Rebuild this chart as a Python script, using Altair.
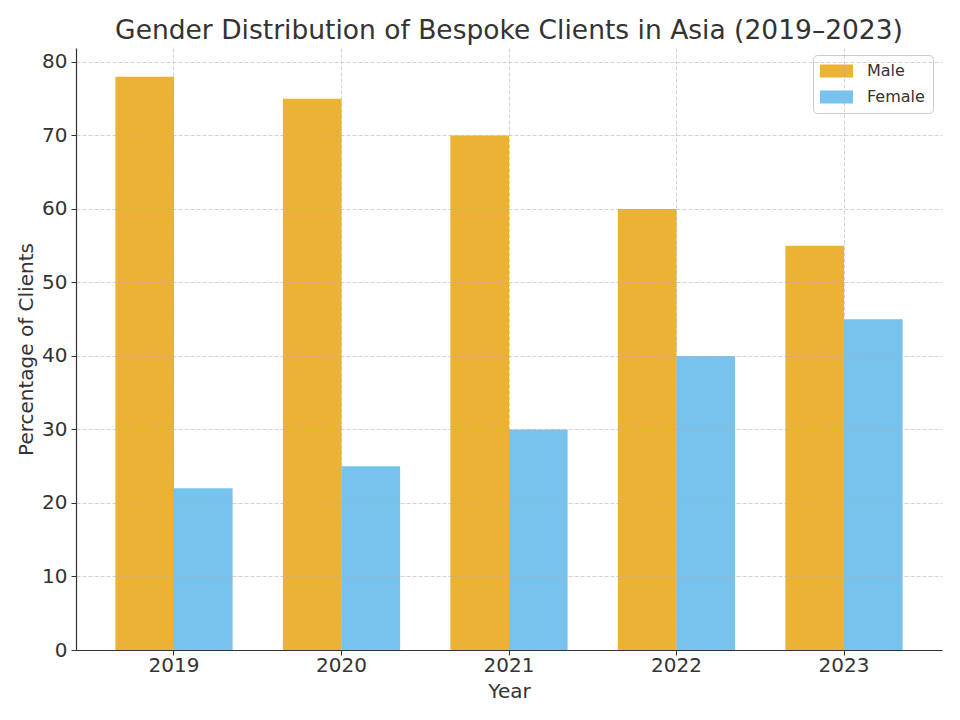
import altair as alt
import pandas as pd

# Share of bespoke clients by gender, Asia 2019-2023 (%)
years = ["2019", "2020", "2021", "2022", "2023"]
male = [78, 75, 70, 60, 55]
female = [22, 25, 30, 40, 45]
genders = ["Male", "Female"]
colors = ["#E69F00", "#56B4E9"]
y_ticks = [0, 10, 20, 30, 40, 50, 60, 70, 80]

rows = []
for i, yr in enumerate(years):
    rows.append({"Year": yr, "Gender": "Male", "Percent": male[i]})
    rows.append({"Year": yr, "Gender": "Female", "Percent": female[i]})
df = pd.DataFrame(rows)

FONT = "DejaVu Sans"
TEXT = "#333333"

# wide legend swatch drawn as a path in symbol units
SWATCH = "M-1.125,-0.8125L3,-0.8125L3,0.8125L-1.125,0.8125Z"

bars = (
    alt.Chart(df)
    .mark_bar(opacity=0.8)
    .encode(
        x=alt.X(
            "Year:N",
            sort=years,
            title="Year",
            scale=alt.Scale(paddingInner=0.3, paddingOuter=0.235),
            axis=alt.Axis(
                labelAngle=0,
                labelFontSize=20,
                titleFontSize=20,
                labelPadding=0,
                titlePadding=6,
                tickSize=5,
                grid=True,
                zindex=1,
            ),
        ),
        xOffset=alt.XOffset(
            "Gender:N", sort=genders, scale=alt.Scale(paddingInner=0, paddingOuter=0)
        ),
        y=alt.Y(
            "Percent:Q",
            title="Percentage of Clients",
            scale=alt.Scale(domain=[0, 81.9], nice=False, zero=True),
            axis=alt.Axis(
                values=y_ticks,
                labelFontSize=20,
                titleFontSize=20,
                labelPadding=4,
                titlePadding=5,
                tickSize=5,
                grid=True,
                zindex=1,
            ),
        ),
        color=alt.Color(
            "Gender:N",
            sort=genders,
            scale=alt.Scale(domain=genders, range=colors),
            legend=alt.Legend(
                title=None,
                orient="none",
                legendX=737,
                legendY=7,
                labelFontSize=16,
                symbolType=SWATCH,
                symbolSize=256,
                symbolOpacity=0.8,
                symbolStrokeWidth=0,
                rowPadding=10,
                labelOffset=30,
                padding=8,
                strokeColor="#cccccc",
                fillColor="white",
                cornerRadius=4,
            ),
        ),
    )
)

chart = (
    bars.properties(
        width=866,
        height=602,
        title=alt.TitleParams(
            "Gender Distribution of Bespoke Clients in Asia (2019–2023)",
            fontSize=26.5,
            font=FONT,
            fontWeight="normal",
            color=TEXT,
            anchor="middle",
            offset=4,
        ),
        autosize=alt.AutoSizeParams(type="none"),
        padding={"left": 76, "top": 48, "right": 18, "bottom": 70},
    )
    .configure(font=FONT)
    .configure_view(stroke=None)
    .configure_axis(
        labelFont=FONT,
        titleFont=FONT,
        labelColor=TEXT,
        titleColor=TEXT,
        titleFontWeight="normal",
        domainColor="#333333",
        domainWidth=1.2,
        tickColor="#333333",
        tickWidth=1,
        gridColor="#b0b0b0",
        gridOpacity=0.7,
        gridDash=[4, 2],
        gridWidth=0.8,
    )
    .configure_legend(labelFont=FONT, labelColor=TEXT)
)

chart.save("out.html", embed_options={"renderer": "svg", "actions": False})
